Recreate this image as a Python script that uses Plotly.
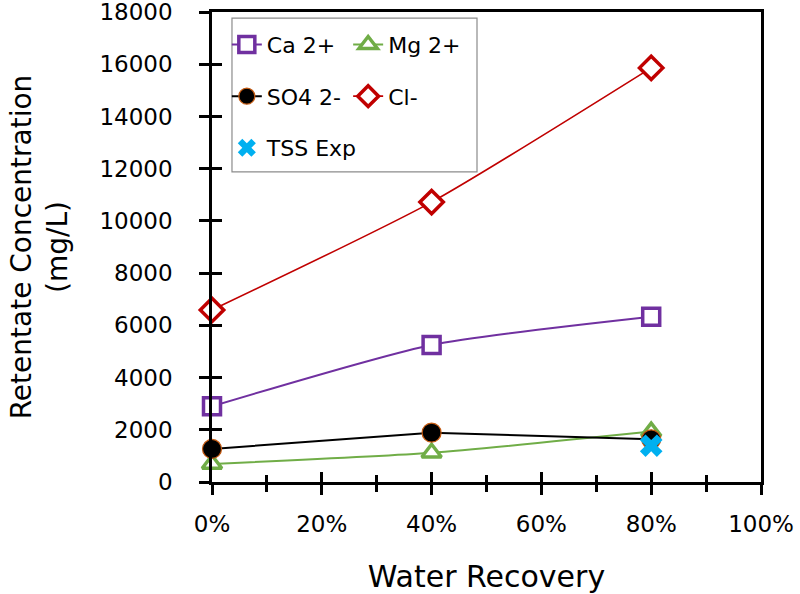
import plotly.graph_objects as go

recovery = [0.0, 0.4, 0.8]
ca = [2900, 5250, 6330]
mg = [690, 1120, 1930]
so4 = [1265, 1890, 1635]
cl = [6590, 10720, 15860]
tss_x = [0.8]
tss = [1390]

FONT = "DejaVu Sans"
fig = go.Figure()

def add(name, y, color, symbol, legend, x=recovery, mode="lines+markers",
        size=15, lw=2, mcolor="white", mline=None, mlw=3.5, shape="spline"):
    fig.add_trace(go.Scatter(
        x=x, y=y, name=name, mode=mode, legend=legend, legendgroup=name,
        line=dict(color=color, width=lw, shape=shape, smoothing=0.6),
        marker=dict(symbol=symbol, size=size, color=mcolor,
                    line=dict(color=mline or color, width=mlw)),
        cliponaxis=False))

add("Ca 2+", ca, "#7030A0", "square", "legend", size=17)
add("Mg 2+", mg, "#70AD47", "triangle-up", "legend2", size=17)
add("SO4 2-", so4, "#000000", "circle", "legend", size=19, mcolor="#000000",
    mline="#C55A11", mlw=1.2, shape="linear")
add("Cl-", cl, "#C00000", "diamond", "legend2", size=18, lw=1.6)
add("TSS Exp", tss, "#00B0F0", "x", "legend", x=tss_x, mode="markers",
    size=20, mcolor="#00B0F0", mline="#00B0F0", mlw=0)

# invisible trace that creates the overlay axes used for crossing ticks
fig.add_trace(go.Scatter(x=[0.5], y=[9000], xaxis="x2", yaxis="y2", mode="markers",
                         marker=dict(opacity=0), showlegend=False, hoverinfo="skip"))

axis_common = dict(showgrid=False, zeroline=False, linecolor="black", automargin=False,
                   ticklabeloverflow="allow",
                   tickcolor="black", tickfont=dict(family=FONT, size=23, color="black"))

fig.update_layout(
    width=800, height=594,
    margin=dict(l=212, r=39, t=12, b=112),
    plot_bgcolor="white", paper_bgcolor="white",
    font=dict(family=FONT, color="black"),
    xaxis=dict(range=[0, 1], tickvals=[0, 0.2, 0.4, 0.6, 0.8, 1.0], tickformat=".0%",
               ticks="outside", ticklen=10, tickwidth=2.5, showline=True, linewidth=2.5,
               mirror=True, ticklabelstandoff=10,
               minor=dict(dtick=0.1, tick0=0, ticks="outside", ticklen=7, tickwidth=2.5,
                          tickcolor="black"),
               title=dict(text="Water Recovery", font=dict(family=FONT, size=30), standoff=30),
               **axis_common),
    yaxis=dict(range=[0, 18000], dtick=2000, tickformat="d",
               ticks="outside", ticklen=10, tickwidth=2.5, showline=True, linewidth=2.5,
               mirror=True, ticklabelstandoff=22,
               title=dict(text="Retentate Concentration<br>(mg/L)",
                          font=dict(family=FONT, size=28), standoff=24),
               **axis_common),
    xaxis2=dict(overlaying="x", anchor="y2", range=[0, 1], tickvals=[0, 0.2, 0.4, 0.6, 0.8, 1.0],
                ticks="inside", ticklen=10, tickwidth=2.5, tickcolor="black",
                showticklabels=False, showgrid=False, zeroline=False, showline=False,
                minor=dict(dtick=0.1, tick0=0, ticks="inside", ticklen=7, tickwidth=2.5,
                           tickcolor="black")),
    yaxis2=dict(overlaying="y", anchor="x2", range=[0, 18000], dtick=2000, ticks="inside",
                ticklen=10, tickwidth=2.5, tickcolor="black", showticklabels=False,
                showgrid=False, zeroline=False, showline=False),
    legend=dict(x=0.027, y=0.975, xanchor="left", yanchor="top", tracegroupgap=20,
                bgcolor="rgba(0,0,0,0)", font=dict(family=FONT, size=22)),
    legend2=dict(x=0.248, y=0.975, xanchor="left", yanchor="top", tracegroupgap=20,
                 bgcolor="rgba(0,0,0,0)", font=dict(family=FONT, size=22)),
    shapes=[dict(type="rect", xref="paper", yref="paper", x0=0.0364, x1=0.4827,
                 y0=0.660, y1=0.987, line=dict(color="#8C8C8C", width=1.2),
                 fillcolor="rgba(0,0,0,0)", layer="below")],
)

fig.write_html("out.html", config={"displayModeBar": False},
               post_script="document.body.style.margin='0px';document.body.style.overflow='hidden';")
